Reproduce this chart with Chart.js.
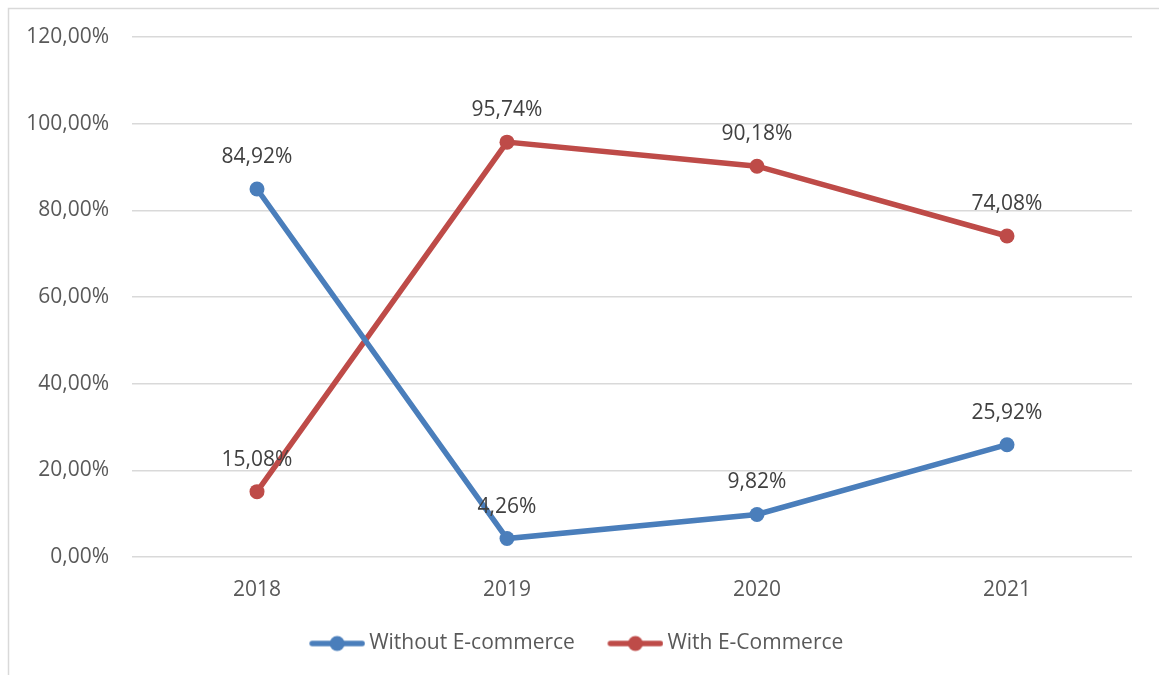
<!DOCTYPE html>
<html>
<head>
<meta charset="utf-8">
<script src="https://cdn.jsdelivr.net/npm/chart.js@4"></script>
<style>
  html, body { margin: 0; padding: 0; background: #fff; }
  #wrap { width: 1159px; height: 675px; }
</style>
</head>
<body>
<div id="wrap"><canvas id="lineChart"></canvas></div>
<script>
// Data
const years = ['2018', '2019', '2020', '2021'];
const withoutEcommerce = [84.92, 4.26, 9.82, 25.92];
const withEcommerce = [15.08, 95.74, 90.18, 74.08];
const yTicks = [0, 20, 40, 60, 80, 100, 120];

const blue = '#4a7ebb';
const red = '#be4b48';
const textColor = '#595959';
const fontFamily = "'Open Sans', 'Noto Sans', sans-serif";
const fontSize = 21;

function pct(v) {
    return v.toFixed(2).replace('.', ',') + '%';
}

// legend marker: a short line with a dot, drawn in the right part of the box
// (the empty left part widens the gap between legend items)
function legendMarker(color) {
    const c = document.createElement('canvas');
    c.width = 75; c.height = 18;
    const g = c.getContext('2d');
    g.strokeStyle = color;
    g.lineWidth = 5.5;
    g.lineCap = 'round';
    g.beginPath();
    g.moveTo(22, 9); g.lineTo(72, 9);
    g.stroke();
    g.fillStyle = color;
    g.beginPath();
    g.arc(47, 9, 7.5, 0, Math.PI * 2);
    g.fill();
    return c;
}

// border on the left and top like the original frame
const framePlugin = {
    id: 'frame',
    beforeDraw(chart) {
        const ctx = chart.ctx;
        ctx.save();
        ctx.strokeStyle = '#d9d9d9';
        ctx.lineWidth = 1.5;
        ctx.beginPath();
        ctx.moveTo(8.5, chart.height + 5);
        ctx.lineTo(8.5, 8.5);
        ctx.lineTo(chart.width + 5, 8.5);
        ctx.stroke();
        ctx.restore();
    }
};

// value labels above each point
const valueLabels = {
    id: 'valueLabels',
    afterDatasetsDraw(chart) {
        const ctx = chart.ctx;
        ctx.save();
        ctx.font = fontSize + 'px ' + fontFamily;
        ctx.fillStyle = '#404040';
        ctx.textAlign = 'center';
        ctx.textBaseline = 'middle';
        chart.data.datasets.forEach((ds, i) => {
            chart.getDatasetMeta(i).data.forEach((pt, j) => {
                ctx.fillText(pct(ds.data[j]), pt.x, pt.y - 32);
            });
        });
        ctx.restore();
    }
};

const ctxLine = document.getElementById('lineChart').getContext('2d');
const lineChart = new Chart(ctxLine, {
    type: 'line',
    data: {
        labels: years,
        datasets: [{
            label: 'Without E-commerce',
            data: withoutEcommerce,
            borderColor: blue,
            backgroundColor: blue,
            borderWidth: 5.5,
            pointRadius: 7.5,
            pointHoverRadius: 7.5,
            pointBorderWidth: 0,
            tension: 0
        }, {
            label: 'With E-Commerce',
            data: withEcommerce,
            borderColor: red,
            backgroundColor: red,
            borderWidth: 5.5,
            pointRadius: 7.5,
            pointHoverRadius: 7.5,
            pointBorderWidth: 0,
            tension: 0
        }]
    },
    options: {
        responsive: true,
        maintainAspectRatio: false,
        animation: false,
        layout: {
            padding: { left: 8, right: 27, top: 37, bottom: 11 }
        },
        plugins: {
            tooltip: { enabled: false },
            legend: {
                position: 'bottom',
                labels: {
                    usePointStyle: true,
                    pointStyleWidth: 62,
                    padding: 20,
                    color: textColor,
                    font: { family: fontFamily, size: fontSize },
                    generateLabels(chart) {
                        return chart.data.datasets.map((ds, i) => ({
                            text: ds.label,
                            pointStyle: legendMarker(ds.borderColor),
                            fillStyle: ds.borderColor,
                            strokeStyle: ds.borderColor,
                            lineWidth: 0,
                            fontColor: textColor,
                            hidden: false,
                            datasetIndex: i
                        }));
                    }
                }
            }
        },
        scales: {
            x: {
                offset: true,
                grid: { display: false, drawTicks: false },
                border: { display: false },
                ticks: {
                    padding: 20,
                    color: textColor,
                    font: { family: fontFamily, size: fontSize }
                },
                afterFit(scale) { scale.height = 56; }
            },
            y: {
                min: 0,
                max: 120,
                afterBuildTicks(scale) {
                    scale.ticks = yTicks.map(v => ({ value: v }));
                },
                grid: { color: '#d9d9d9', lineWidth: 1.5, drawTicks: false },
                border: { display: false },
                ticks: {
                    padding: 23,
                    color: textColor,
                    font: { family: fontFamily, size: fontSize },
                    callback: v => pct(v)
                },
                afterFit(scale) { scale.width = 124; }
            }
        }
    },
    plugins: [framePlugin, valueLabels]
});
</script>
</body>
</html>
